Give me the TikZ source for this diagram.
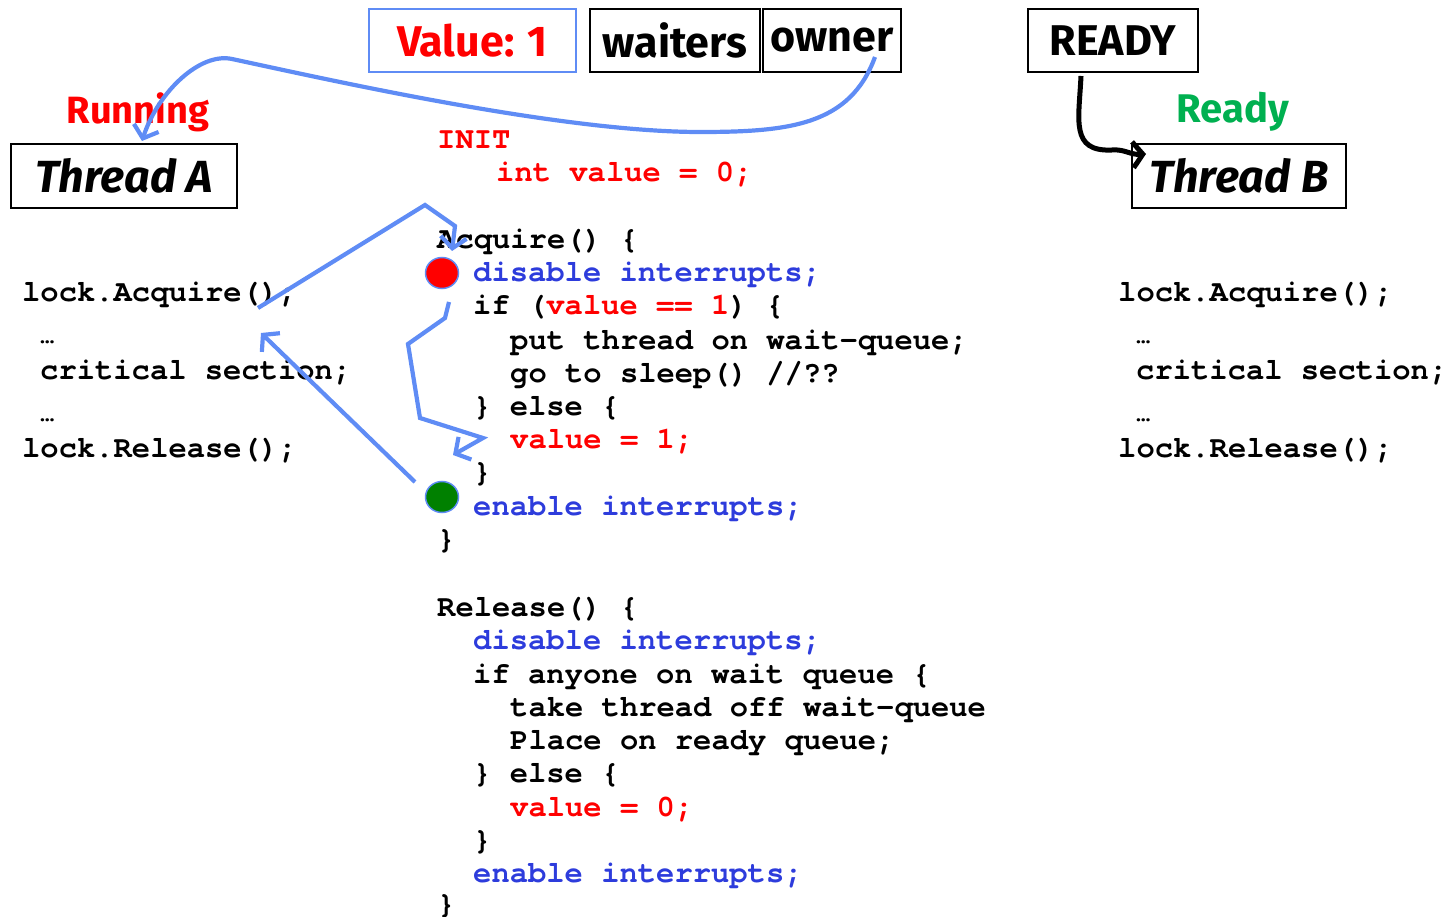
\documentclass[tikz,border=0pt]{standalone}
\usepackage{fontspec}
\setmonofont{TeX Gyre Cursor}[Ligatures=NoCommon]
\newfontfamily\comicfont{Fira Sans}
\usetikzlibrary{arrows.meta,positioning}
\definecolor{lineblue}{RGB}{95,140,245}
\definecolor{codeblue}{RGB}{45,60,220}
\definecolor{readygreen}{RGB}{0,176,80}
\definecolor{dotgreen}{RGB}{0,128,0}
\tikzset{
  code/.style={anchor=base west,inner sep=0pt,
    font=\ttfamily\bfseries\fontsize{30.5}{33}\selectfont},
  box/.style={draw,line width=1.6pt,minimum height=63pt,inner sep=0pt,
    font=\comicfont\bfseries\fontsize{43}{46}\selectfont},
  thread/.style={box,minimum height=64pt,
    font=\comicfont\bfseries\itshape\fontsize{45}{48}\selectfont},
  state/.style={font=\comicfont\bfseries\fontsize{38}{42}\selectfont},
  dot/.style={ellipse,draw=lineblue,line width=1.5pt,minimum width=33pt,
    minimum height=31pt,inner sep=0pt},
  flow/.style={lineblue,line width=4.2pt,line join=miter,
    -{Straight Barb[length=11pt,width=26pt]}}
}
\usetikzlibrary{shapes.geometric}
\begin{document}
\begin{tikzpicture}[x=1pt,y=-1pt]
\useasboundingbox (0,0) rectangle (1449,917);

% lock word and the thread boxes
\node[box,draw=lineblue,minimum width=207pt,text=red] (value) at (472.5,40.5) {Value: 1};
\node[box,minimum width=170pt] (waiters) at (675,40.5) {waiters};
\node[box,minimum width=138pt] (owner) at (832,40.5) {owner};
\node[box,minimum width=170pt] (readyq) at (1113,40.5) {READY};
\node[thread,minimum width=226pt] (threadA) at (124,176) {Thread A};
\node[thread,minimum width=214pt] (threadB) at (1239,176) {Thread B};
\node[state,text=red] (running) at (138,112) {Running};
\node[state,text=readygreen,font=\comicfont\bfseries\fontsize{40}{44}\selectfont] (ready) at (1233,112) {Ready};

% Thread A code
\node[code] (aacq) at (22,302) {lock.Acquire();};
\node[code,font=\ttfamily\bfseries\fontsize{24}{26}\selectfont] (adots1) at (40,344) {…};
\node[code] (acrit) at (40,380) {critical section;};
\node[code,font=\ttfamily\bfseries\fontsize{24}{26}\selectfont] (adots2) at (40,421) {…};
\node[code] (arel) at (22,457) {lock.Release();};

% Thread B code
\node[code] (bacq) at (1118,302) {lock.Acquire();};
\node[code,font=\ttfamily\bfseries\fontsize{24}{26}\selectfont] (bdots1) at (1136,344) {…};
\node[code] (bcrit) at (1136,380) {critical section;};
\node[code,font=\ttfamily\bfseries\fontsize{24}{26}\selectfont] (bdots2) at (1136,421) {…};
\node[code] (brel) at (1118,457) {lock.Release();};

% lock implementation
\node[code,text=red] (init) at (437,149) {INIT};
\node[code,text=red] (initval) at (496,182) {int value = 0;};

\node[code] (acq) at (437,249) {Acquire() \{};
\node[code,text=codeblue] (acqdis) at (473,282) {disable interrupts;};
\node[code] (acqif) at (473,315) {if (\textcolor{red}{value == 1}) \{};
\node[code] (acqput) at (510,349) {put thread on wait-queue;};
\node[code] (acqsleep) at (510,382) {go to sleep() //??};
\node[code] (acqelse) at (473,415) {\} else \{};
\node[code,text=red] (acqset) at (510,448) {value = 1;};
\node[code] (acqfi) at (473,481) {\}};
\node[code,text=codeblue] (acqen) at (473,515) {enable interrupts;};
\node[code] (acqend) at (437,548) {\}};

\node[code] (rel) at (437,616) {Release() \{};
\node[code,text=codeblue] (reldis) at (473,649) {disable interrupts;};
\node[code] (relif) at (473,683) {if anyone on wait queue \{};
\node[code] (reltake) at (510,716) {take thread off wait-queue};
\node[code] (relplace) at (510,749) {Place on ready queue;};
\node[code] (relelse) at (473,782) {\} else \{};
\node[code,text=red] (relset) at (510,816) {value = 0;};
\node[code] (relfi) at (473,849) {\}};
\node[code,text=codeblue] (relen) at (473,882) {enable interrupts;};
\node[code] (relend) at (437,913) {\}};

\node[dot,fill=red] (reddot) at (442,273) {};
\node[dot,fill=dotgreen] (greendot) at (442,497) {};

% waypoints of the arrows
\coordinate (ownerhook) at (875,57);
\coordinate (lowpt) at (700,132);
\coordinate (toppt) at (232,59);
\coordinate (runtip) at (142,141);
\coordinate (callpt) at (258,308);
\coordinate (peak) at (425,205);
\coordinate (knee) at (455,226);
\coordinate (acqtip) at (452,251);
\coordinate (s1) at (449,302);
\coordinate (s2) at (445,318);
\coordinate (s3) at (408,344);
\coordinate (s4) at (420,418);
\coordinate (s5) at (483,438);
\coordinate (settip) at (453,455);
\coordinate (backpt) at (415,482);
\coordinate (backtip) at (261,333);
\coordinate (readyfoot) at (1081,76);
\coordinate (bend) at (1112,150);
\coordinate (btip) at (1146,154);

\draw[flow] (ownerhook) .. controls (850,125) and (790,132) .. (lowpt)
  .. controls (560,132) and (330,80) .. (toppt)
  .. controls (200,52) and (158,92) .. (runtip);
\draw[flow] (callpt) -- (peak) -- (knee) -- (acqtip);
\draw[flow] (s1) -- (s2) -- (s3) -- (s4) -- (s5) -- (settip);
\draw[flow] (backpt) -- (backtip);
\draw[line width=5pt,-{Straight Barb[length=10pt,width=26pt]}] (readyfoot)
  .. controls (1079,120) and (1070,152) .. (bend)
  .. controls (1125,149) and (1130,155) .. (btip);
\end{tikzpicture}
\end{document}
